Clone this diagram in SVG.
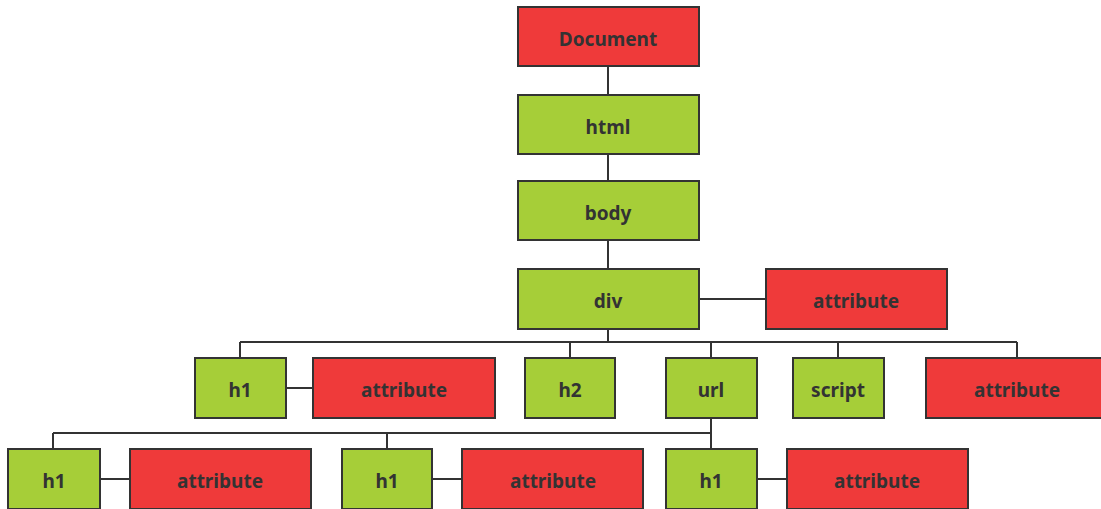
<svg xmlns="http://www.w3.org/2000/svg" width="1101" height="509" viewBox="0 0 1101 509">
<style>
.r{fill:#ef3a3a;stroke:#333;stroke-width:2}
.g{fill:#a6ce38;stroke:#333;stroke-width:2}
text{font-family:"Noto Sans","Open Sans",sans-serif;font-weight:bold;font-size:19px;fill:#333;text-anchor:middle;dominant-baseline:central}
.c{fill:none;stroke:#333;stroke-width:2}
</style>
<rect width="1101" height="509" fill="#fff"/>
<g id="connectors">
<path class="c" d="M608 66V95M608 154V181M608 240V269M699 299H766"/>
<path class="c" d="M608 329V342M240 342H1017M240 342V358M570 342V358M711 342V358M838 342V358M1017 342V358M286 388H313"/>
<path class="c" d="M711 418V449M53 433H711M53 433V449M387 433V449M100 479H130M432 479H462M757 479H787"/>
</g>
<g id="document"><rect class="r" x="518" y="7" width="181" height="59"/><text x="608" y="38.5">Document</text></g>
<g id="html"><rect class="g" x="518" y="95" width="181" height="59"/><text x="608" y="126.5">html</text></g>
<g id="body"><rect class="g" x="518" y="181" width="181" height="59"/><text x="608" y="212.5">body</text></g>
<g id="div"><rect class="g" x="518" y="269" width="181" height="60"/><text x="608" y="300.5">div</text></g>
<g id="div-attr"><rect class="r" x="766" y="269" width="181" height="60"/><text x="856" y="300.5">attribute</text></g>
<g id="h1-a"><rect class="g" x="195" y="358" width="91" height="60"/><text x="240" y="389.5">h1</text></g>
<g id="h1-a-attr"><rect class="r" x="313" y="358" width="182" height="60"/><text x="404" y="389.5">attribute</text></g>
<g id="h2"><rect class="g" x="525" y="358" width="90" height="60"/><text x="570" y="389.5">h2</text></g>
<g id="url"><rect class="g" x="666" y="358" width="91" height="60"/><text x="711" y="389.5">url</text></g>
<g id="script"><rect class="g" x="793" y="358" width="91" height="60"/><text x="838" y="389.5">script</text></g>
<g id="attr-right"><rect class="r" x="926" y="358" width="182" height="60"/><text x="1017" y="389.5">attribute</text></g>
<g id="h1-b"><rect class="g" x="8" y="449" width="92" height="60"/><text x="54" y="480.5">h1</text></g>
<g id="h1-b-attr"><rect class="r" x="130" y="449" width="181" height="60"/><text x="220" y="480.5">attribute</text></g>
<g id="h1-c"><rect class="g" x="342" y="449" width="90" height="60"/><text x="387" y="480.5">h1</text></g>
<g id="h1-c-attr"><rect class="r" x="462" y="449" width="181" height="60"/><text x="553" y="480.5">attribute</text></g>
<g id="h1-d"><rect class="g" x="666" y="449" width="91" height="60"/><text x="711" y="480.5">h1</text></g>
<g id="h1-d-attr"><rect class="r" x="787" y="449" width="181" height="60"/><text x="877" y="480.5">attribute</text></g>
</svg>
